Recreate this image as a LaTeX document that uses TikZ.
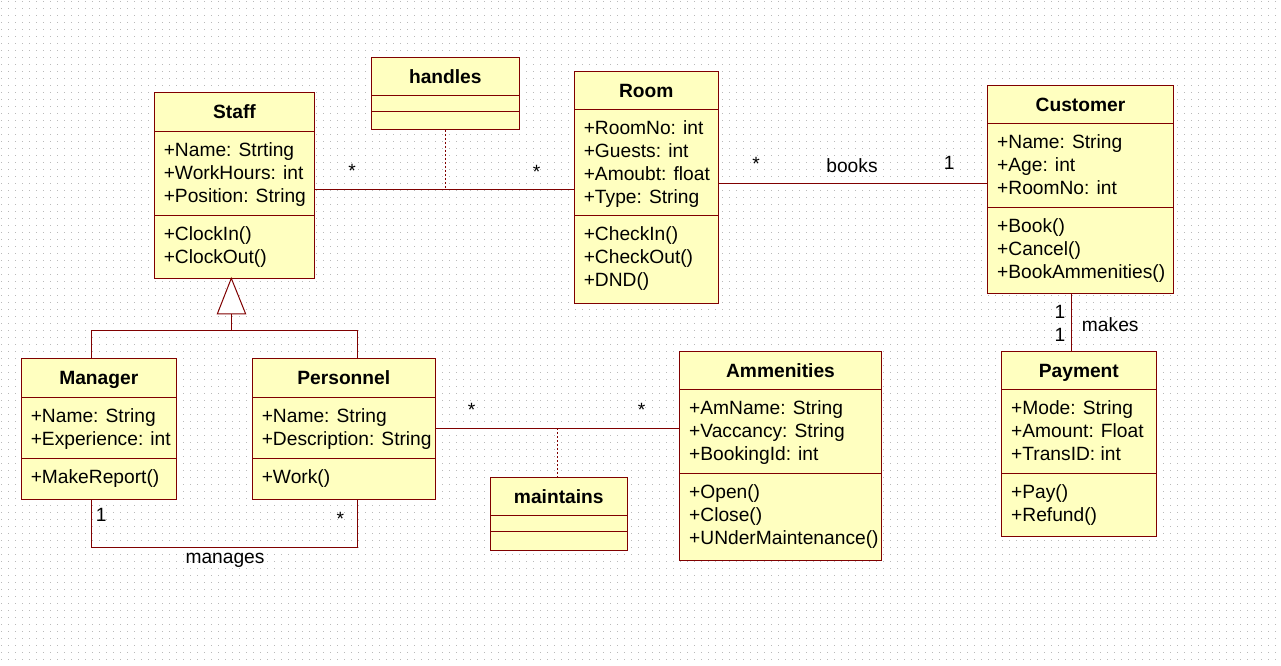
\documentclass[tikz,border=0pt]{standalone}
\usepackage{fontspec}
\setmainfont{Liberation Sans}
\usetikzlibrary{fit}
\definecolor{umlborder}{RGB}{128,0,0}
\definecolor{umlfill}{RGB}{255,255,192}
\definecolor{griddot}{RGB}{185,185,185}
\tikzset{
 classbox/.style={draw=umlborder, fill=umlfill, line width=0.75pt, inner sep=0pt, outer sep=0pt},
 divider/.style={draw=umlborder, line width=0.75pt},
 assoc/.style={draw=umlborder, line width=0.75pt},
 anchorline/.style={draw=umlborder, line width=0.75pt, dash pattern=on 1.5pt off 1.5pt},
 titletext/.style={font=\fontsize{14.4}{17.3}\selectfont\bfseries, inner sep=0pt, anchor=base},
 membertext/.style={font=\fontsize{14.4}{17.3}\selectfont, inner sep=0pt, anchor=base west},
 labeltext/.style={font=\fontsize{14.4}{17.3}\selectfont, inner sep=0pt, anchor=base},
 gridrow/.style={draw=griddot, line width=0.75pt, dash pattern=on 0.75pt off 4.5pt},
}
\newcommand{\umlbox}[8]{%
  \node[classbox, fit={(#2,#3) (#4,#5)}] (#1) {};
  \draw[divider] (#1.west |- 0,#6) -- (#1.east |- 0,#6);
  \draw[divider] (#1.west |- 0,#7) -- (#1.east |- 0,#7);
  \node[titletext] (#1-title) at ({(#2+#4)/2},{#3+26}) {#8};
}
\newcommand{\umlmembers}[4]{%
  \foreach \txt [count=\k from 0] in {#4} {\node[membertext] (#1-\k) at (#2,{#3+23*\k}) {\txt};}
}
\begin{document}
\begin{tikzpicture}[x=0.75pt,y=-0.75pt]
\useasboundingbox[fill=white] (0,0) rectangle (1281,666);
% dotted grid
\foreach \j in {0,...,94} {\draw[gridrow] (1,{1.5+7*\j}) -- (1281,{1.5+7*\j});}

% classes
\umlbox{staff}{154.3}{92.3}{314.7}{278.3}{131.3}{215.3}{Staff}
\umlmembers{staffA}{163.5}{156.3}{{+Name: Strting},{+WorkHours: int},{+Position: String}}
\umlmembers{staffM}{163.5}{240.3}{{+ClockIn()},{+ClockOut()}}

\umlbox{handles}{371.3}{57.3}{519.3}{130}{95.3}{111.3}{handles}

\umlbox{room}{574.3}{71.3}{718.3}{303.3}{109.7}{216}{Room}
\umlmembers{roomA}{583.5}{134.7}{{+RoomNo: int},{+Guests: int},{+Amoubt: float},{+Type: String}}
\umlmembers{roomM}{583.5}{241}{{+CheckIn()},{+CheckOut()},{+DND()}}

\umlbox{customer}{987.7}{85.7}{1173.3}{294}{123.3}{207.3}{Customer}
\umlmembers{customerA}{996.9}{148.3}{{+Name: String},{+Age: int},{+RoomNo: int}}
\umlmembers{customerM}{996.9}{232.3}{{+Book()},{+Cancel()},{+BookAmmenities()}}

\umlbox{payment}{1001.7}{351.7}{1156}{536.7}{389.3}{473.3}{Payment}
\umlmembers{paymentA}{1010.9}{414.3}{{+Mode: String},{+Amount: Float},{+TransID: int}}
\umlmembers{paymentM}{1010.9}{498.3}{{+Pay()},{+Refund()}}

\umlbox{ammenities}{679.7}{351.7}{881.3}{560.3}{389.3}{473.3}{Ammenities}
\umlmembers{ammenitiesA}{688.9}{414.3}{{+AmName: String},{+Vaccancy: String},{+BookingId: int}}
\umlmembers{ammenitiesM}{688.9}{498.3}{{+Open()},{+Close()},{+UNderMaintenance()}}

\umlbox{manager}{21.3}{358.3}{176.3}{499.3}{397.3}{458.3}{Manager}
\umlmembers{managerA}{30.5}{422.3}{{+Name: String},{+Experience: int}}
\umlmembers{managerM}{30.5}{483.3}{{+MakeReport()}}

\umlbox{personnel}{252.3}{358.3}{435.3}{499.3}{397.3}{458.3}{Personnel}
\umlmembers{personnelA}{261.5}{422.3}{{+Name: String},{+Description: String}}
\umlmembers{personnelM}{261.5}{483.3}{{+Work()}}

\umlbox{maintains}{490.3}{477.3}{627.3}{550.3}{515.3}{531.3}{maintains}

% generalization
\draw[assoc, fill=white] (231.3,0 |- staff.south) -- (217.3,314) -- (245.7,314) -- cycle;
\draw[assoc] (231.3,314) -- (231.3,330.3);
\draw[assoc] (91.7,0 |- manager.north) -- (91.7,330.3) -- (357.7,330.3) -- (357.7,0 |- personnel.north);

% manages
\draw[assoc] (91.7,0 |- manager.south) -- (91.7,547) -- (357.7,547) -- (357.7,0 |- personnel.south);

% handles association
\coordinate (handlesmid) at (445.7,190);
\draw[assoc] (staff.east |- 0,190) -- (room.west |- 0,190);
\draw[anchorline] (445.7,0 |- handles.south) -- (handlesmid);

% books
\draw[assoc] (room.east |- 0,183.3) -- (customer.west |- 0,183.3);

% makes
\draw[assoc] (1071.7,0 |- customer.south) -- (1071.7,0 |- payment.north);

% maintains association
\coordinate (maintmid) at (557.7,428.3);
\draw[assoc] (personnel.east |- 0,428.3) -- (ammenities.west |- 0,428.3);
\draw[anchorline] (maintmid) -- (557.7,0 |- maintains.north);

% labels
\node[labeltext] (m-staffroom1) at (352,177.7) {*};
\node[labeltext] (m-staffroom2) at (536.7,178.5) {*};
\node[labeltext] (m-books1) at (756,171) {*};
\node[labeltext] (l-books) at (852,173) {books};
\node[labeltext] (m-books2) at (949.3,170) {1};
\node[labeltext] (m-makes1) at (1060,318.3) {1};
\node[labeltext] (m-makes2) at (1060,341.7) {1};
\node[membertext] (l-makes) at (1081.7,332) {makes};
\node[labeltext] (m-maint1) at (471.7,416.7) {*};
\node[labeltext] (m-maint2) at (641.7,416.7) {*};
\node[labeltext] (m-man1) at (101.3,521.7) {1};
\node[labeltext] (m-man2) at (340.3,525) {*};
\node[labeltext] (l-manages) at (225,563.3) {manages};
\end{tikzpicture}
\end{document}
